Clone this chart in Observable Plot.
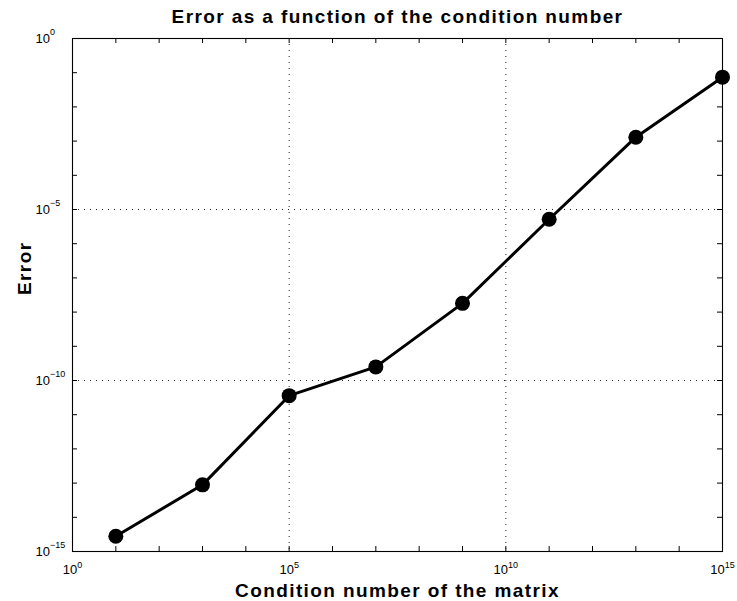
<!DOCTYPE html>
<html>
<head>
<meta charset="utf-8">
<script src="https://cdn.jsdelivr.net/npm/d3@7"></script>
<script src="https://cdn.jsdelivr.net/npm/@observablehq/plot@0.6"></script>
<style>
  html, body { margin: 0; padding: 0; background: white; }
  #chart svg { display: block; }
</style>
</head>
<body>
<div id="chart"></div>
<script>
const chartTitle = "Error as a function of the condition number";
const xLabel = "Condition number of the matrix";
const yLabel = "Error";

const conditionNumbers = [1e1, 1e3, 1e5, 1e7, 1e9, 1e11, 1e13, 1e15];
const errorValues = [2.8e-15, 8.9e-14, 3.6e-11, 2.5e-10, 1.8e-8, 5.2e-6, 1.3e-3, 7.4e-2];

const xTickValues = [1e0, 1e5, 1e10, 1e15];
const yTickValues = [1e-15, 1e-10, 1e-5, 1e0];
const xGridValues = [1e5, 1e10];
const yGridValues = [1e-10, 1e-5];
const xMinorTicks = [1e1, 1e2, 1e3, 1e4, 1e5, 1e6, 1e7, 1e8, 1e9, 1e10, 1e11, 1e12, 1e13, 1e14];
const yMinorTicks = [1e-14, 1e-13, 1e-12, 1e-11, 1e-10, 1e-9, 1e-8, 1e-7, 1e-6, 1e-5, 1e-4, 1e-3, 1e-2, 1e-1];

const data = conditionNumbers.map((c, i) => ({cond: c, err: errorValues[i]}));

const W = 737, H = 601;
const mL = 72, mR = 15, mT = 38, mB = 50;
const frameW = W - mL - mR, frameH = H - mT - mB;
const tickLen = 5;
const expFmt = d => String(Math.round(Math.log10(d)));
const boldStyle = {fontSize: 19, fontWeight: "bold", fill: "black"};

const chart = Plot.plot({
  width: W,
  height: H,
  marginLeft: mL,
  marginRight: mR,
  marginTop: mT,
  marginBottom: mB,
  style: {fontFamily: "'Liberation Sans', Arial, Helvetica, sans-serif", background: "white", color: "black"},
  x: {type: "log", domain: [1e0, 1e15]},
  y: {type: "log", domain: [1e-15, 1e0]},
  marks: [
    Plot.ruleX(xGridValues, {stroke: "#222", strokeWidth: 1, strokeDasharray: "1,5"}),
    Plot.ruleY(yGridValues, {stroke: "#222", strokeWidth: 1, strokeDasharray: "1,5"}),
    // inside ticks on all four sides
    Plot.ruleX(xMinorTicks, {stroke: "black", insetTop: frameH - tickLen}),
    Plot.ruleX(xMinorTicks, {stroke: "black", insetBottom: frameH - tickLen}),
    Plot.ruleY(yMinorTicks, {stroke: "black", insetRight: frameW - tickLen}),
    Plot.ruleY(yMinorTicks, {stroke: "black", insetLeft: frameW - tickLen}),
    Plot.frame({stroke: "black", strokeWidth: 1.1}),
    Plot.axisX({ticks: xTickValues, tickSize: 0, tickPadding: 13, tickFormat: expFmt, label: null}),
    Plot.axisY({ticks: yTickValues, tickSize: 0, tickPadding: 0, tickFormat: expFmt, label: null}),
    Plot.line(data, {x: "cond", y: "err", stroke: "black", strokeWidth: 3}),
    Plot.dot(data, {x: "cond", y: "err", r: 7.5, fill: "black", stroke: "none"}),
    Plot.text([chartTitle], {frameAnchor: "top", lineAnchor: "bottom", dy: -16, ...boldStyle}),
    Plot.text([xLabel], {frameAnchor: "bottom", lineAnchor: "bottom", dy: 45, ...boldStyle}),
    Plot.text([yLabel], {frameAnchor: "left", lineAnchor: "bottom", rotate: -90, dx: -42, ...boldStyle})
  ]
});

// bold labels: slightly wider spacing like the original
chart.querySelectorAll('text').forEach(t => {
  if (t.getAttribute("font-weight") === "bold" || (t.parentNode && t.parentNode.getAttribute && t.parentNode.getAttribute("font-weight") === "bold")) {
    t.setAttribute("letter-spacing", "1.4");
  }
});

// turn exponent tick labels into 10 with superscript exponent
const svgNS = "http://www.w3.org/2000/svg";
function supLabel(t, supDy) {
  const exp = t.textContent.replace("-", "\u2212").replace("−", "\u2212");
  t.textContent = "";
  t.setAttribute("font-size", "13");
  const base = document.createElementNS(svgNS, "tspan");
  base.textContent = "10";
  const sup = document.createElementNS(svgNS, "tspan");
  sup.textContent = exp;
  sup.setAttribute("font-size", "9");
  sup.setAttribute("dy", String(supDy));
  t.appendChild(base);
  t.appendChild(sup);
}
chart.querySelectorAll('g[aria-label="x-axis tick label"] text').forEach(t => supLabel(t, -6));
chart.querySelectorAll('g[aria-label="y-axis tick label"] text').forEach(t => {
  supLabel(t, -8);
  t.setAttribute("text-anchor", "start");
  t.setAttribute("x", "-37");
});

document.getElementById("chart").appendChild(chart);
</script>
</body>
</html>
